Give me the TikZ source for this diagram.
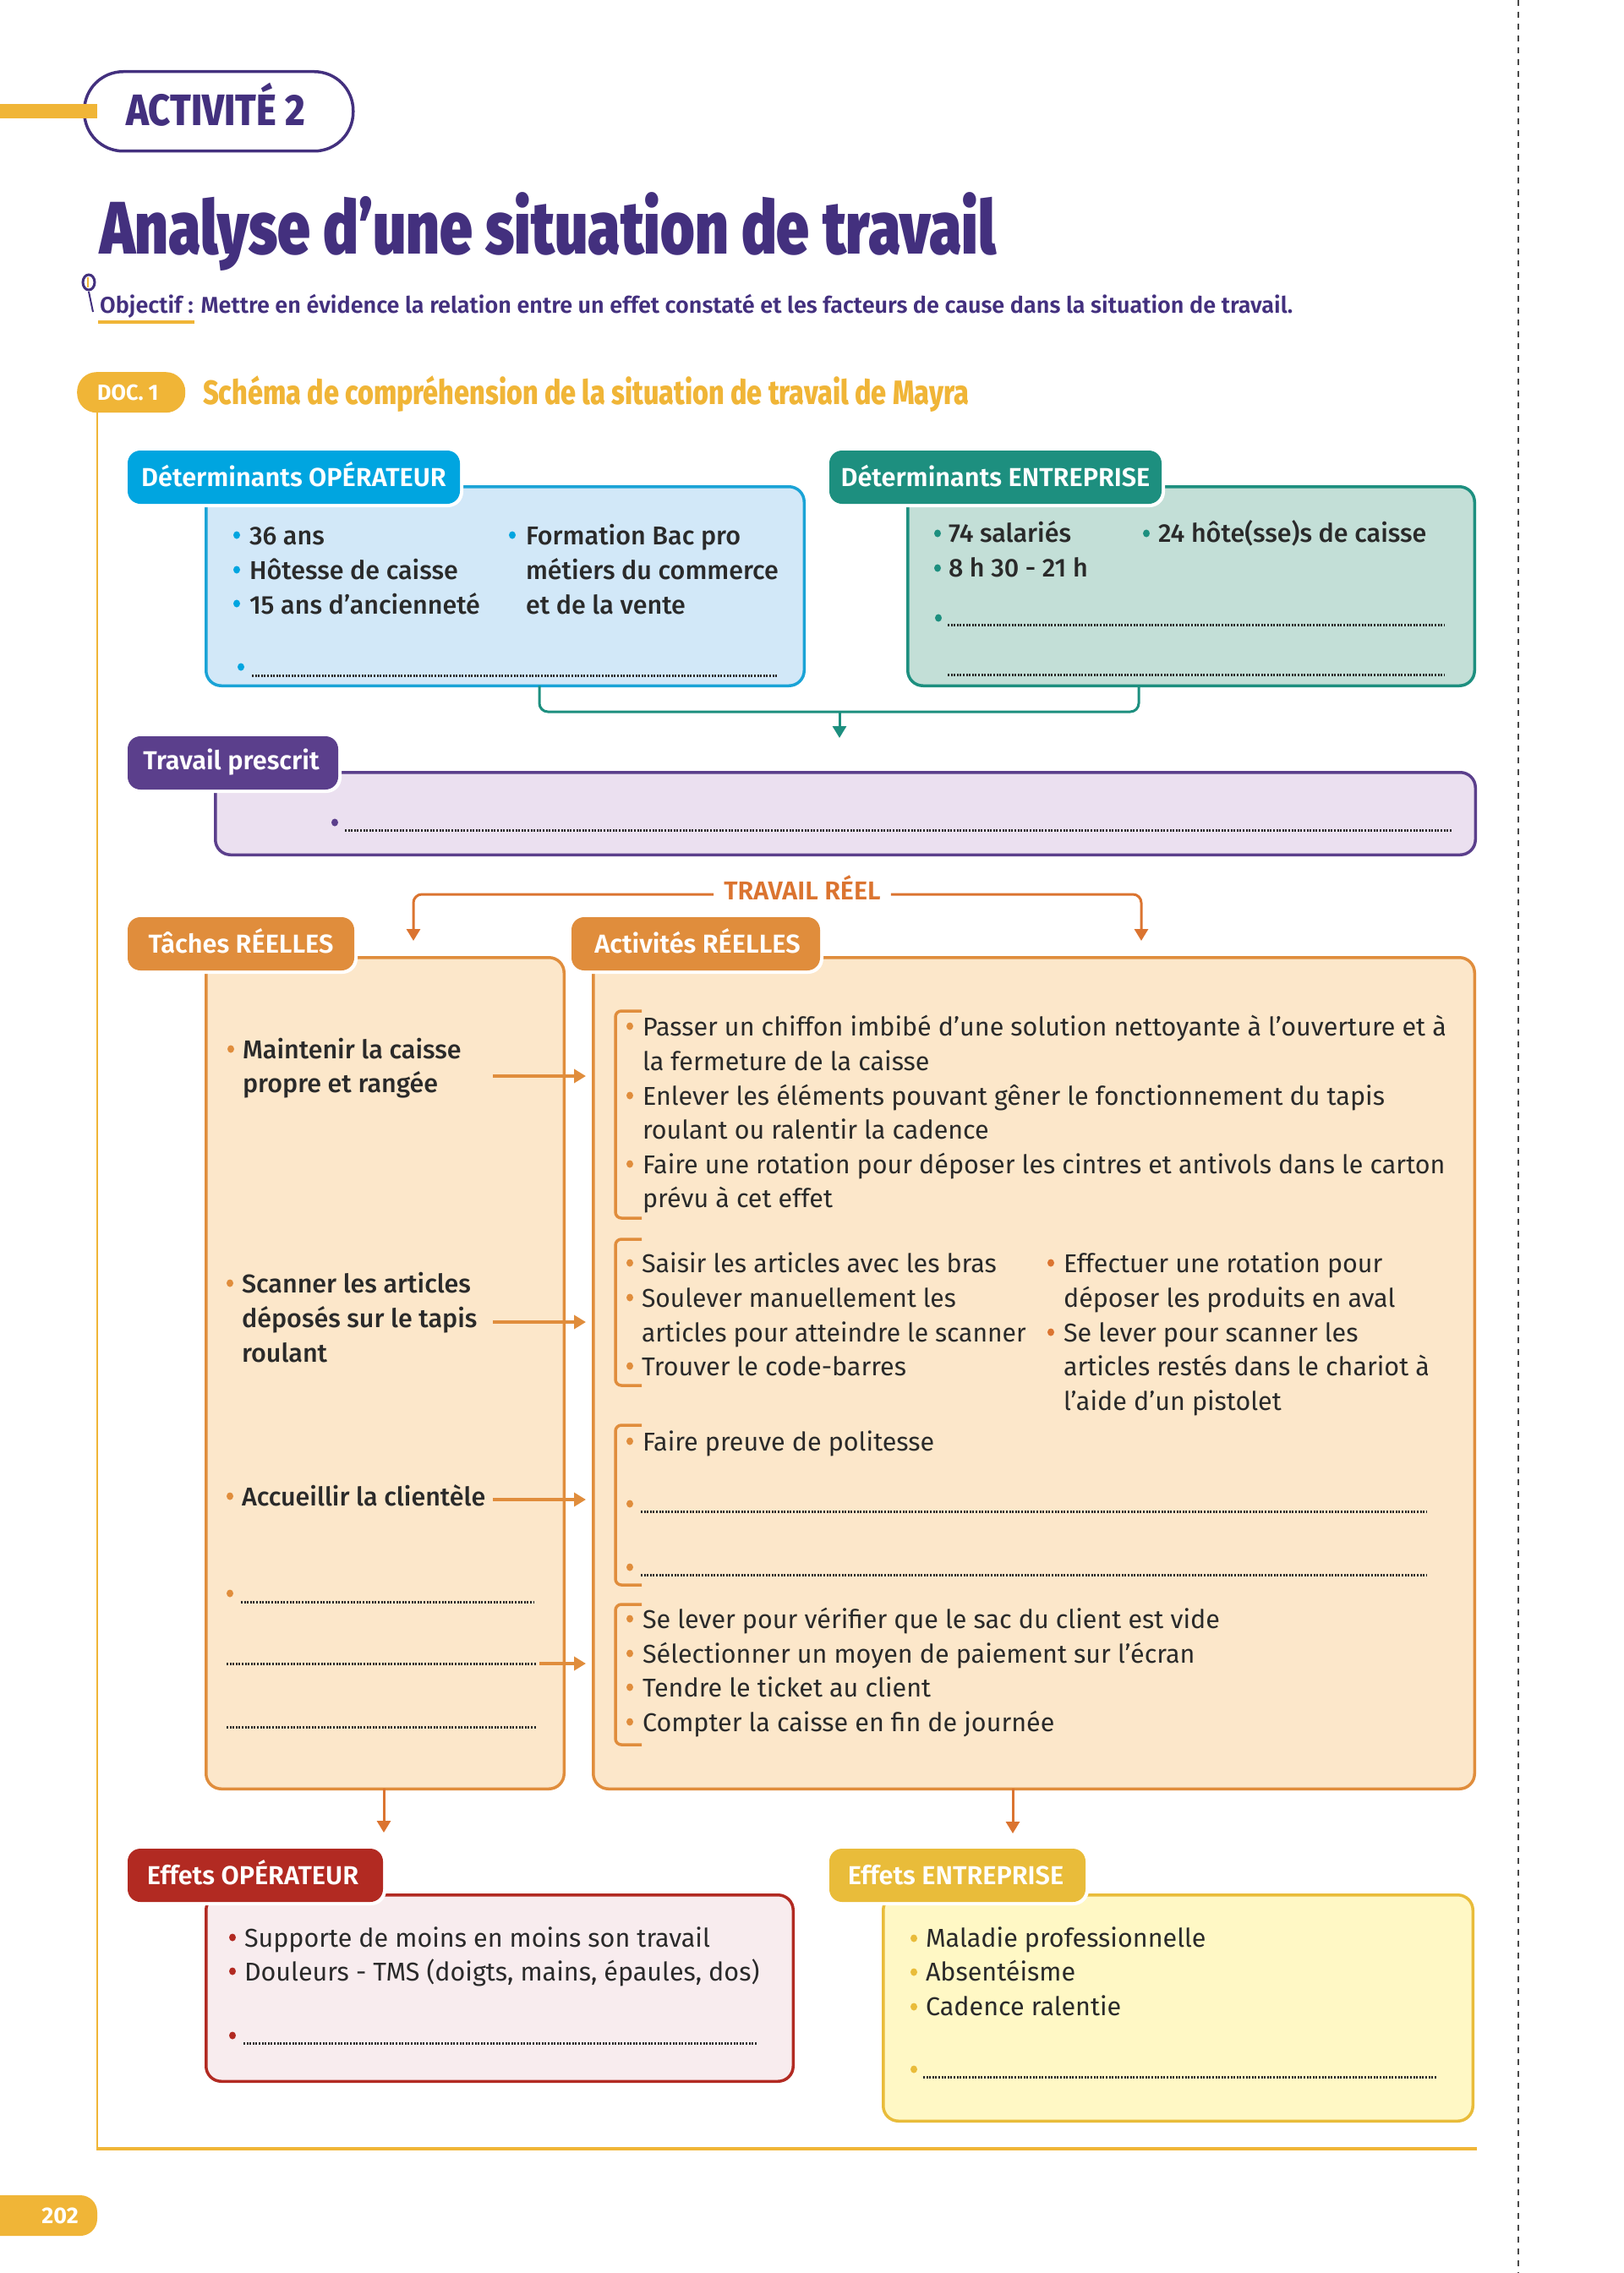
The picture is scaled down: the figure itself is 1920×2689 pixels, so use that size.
\documentclass[tikz,border=0pt]{standalone}
\usepackage{fontspec}
\usetikzlibrary{arrows.meta,shapes.geometric}
\setmainfont{Fira Sans}
\newfontfamily\fmed{Fira Sans Medium}
\newfontfamily\fsemi{Fira Sans SemiBold}
\newfontfamily\ftitle[FakeStretch=0.79]{Fira Sans Black}
\newfontfamily\facti[FakeStretch=0.87]{Fira Sans ExtraBold}
\newfontfamily\fhead[FakeStretch=0.81]{Fira Sans ExtraBold}
\newfontfamily\fdoc[FakeStretch=0.97]{Fira Sans Bold}
\newfontfamily\fpg{Fira Sans Bold}
\newfontfamily\ftight[FakeStretch=0.985]{Fira Sans}
\definecolor{ink}{HTML}{2A2A2A}
\definecolor{dpurple}{HTML}{43307E}
\definecolor{gold}{HTML}{F0B537}
\definecolor{blueL}{HTML}{00A5E0}
\definecolor{blueS}{HTML}{1AA3D6}
\definecolor{blueF}{HTML}{D2E8F8}
\definecolor{tealL}{HTML}{1D8F7F}
\definecolor{tealF}{HTML}{C3DFD7}
\definecolor{purpL}{HTML}{5B3F8C}
\definecolor{purpF}{HTML}{EBE0F0}
\definecolor{orL}{HTML}{E08D3C}
\definecolor{orD}{HTML}{DB7430}
\definecolor{orF}{HTML}{FCE7CA}
\definecolor{redL}{HTML}{B22A22}
\definecolor{redF}{HTML}{F8ECEE}
\definecolor{yelL}{HTML}{E9BC3A}
\definecolor{yelF}{HTML}{FFF8C5}
\tikzset{
  x=1pt,y=-1pt,
  panelbox/.style={draw=#1,line width=3.5pt,rounded corners=18pt,inner sep=0pt,outer sep=0pt},
  tagbox/.style={fill=#1,rounded corners=15pt,inner sep=0pt,outer sep=0pt,text=white,text height=21pt,text depth=0pt,font=\fontsize{30.7}{36}\fsemi},
  halo/.style={fill=white,rounded corners=18pt},
  body/.style={anchor=base west,inner sep=0pt,outer sep=0pt,text=ink,font=\fontsize{30.5}{40}\selectfont},
  bodym/.style={body,font=\fontsize{30.5}{40}\fmed},
  dots/.style={ink,line width=3pt,dash pattern=on 1.9pt off 1.7pt},
  brack/.style={orL,line width=3.5pt,rounded corners=7pt},
  thintip/.style={-{Triangle[length=14pt,width=16pt]}},
  flowA/.style={thintip,orL,line width=3.5pt},
  flowB/.style={thintip,orD,line width=3pt},
  flowC/.style={thintip,tealL,line width=3pt},
}
\newcommand\fpanel[7]{\pgfmathsetmacro\pw{#4-#2-1.5}\pgfmathsetmacro\ph{#5-#3-1.5}%
  \node[panelbox=#6,fill=#7,anchor=north west,minimum width=\pw pt,minimum height=\ph pt] (#1) at (#2+0.75,#3+0.75) {};}
\newcommand\tagl[7]{\pgfmathsetmacro\pw{#4-#2}\pgfmathsetmacro\ph{#5-#3}%
  \fill[halo] (#2-4,#3-4) rectangle (#4+4,#5+4);
  \node[tagbox=#6,anchor=north west,minimum width=\pw pt,minimum height=\ph pt] (#1) at (#2,#3) {#7};}
\newcommand\blt[3]{\fill[#1] (#2,#3) ellipse (4pt and 4.5pt);}
\newcommand\lin[4]{\node[body] (#1) at (#2,#3) {#4};}
\newcommand\linm[4]{\node[bodym] (#1) at (#2,#3) {#4};}
\newcommand\dotl[3]{\draw[dots] (#1,#3) -- (#2,#3);}
\begin{document}
\begin{tikzpicture}
\useasboundingbox (0,0) rectangle (1920,2689);
\fill[white] (0,0) rectangle (1920,2689);
% right margin
\draw[ink!85,line width=1.5pt,dash pattern=on 7pt off 7pt] (1796,0) -- (1796,2689);
% header
\node[draw=dpurple,line width=3.5pt,fill=white,rounded corners=46pt,inner sep=0pt,anchor=north west,minimum width=318pt,minimum height=94pt] (actpill) at (98,83) {};
\fill[gold] (0,123) rectangle (115,140);
\node[anchor=base west,inner sep=0pt,text=dpurple,font=\fontsize{52}{60}\facti] (acttxt) at (149,149) {ACTIVITÉ 2};
\node[anchor=base west,inner sep=0pt,text=dpurple,font=\fontsize{88}{100}\ftitle] (title) at (118,300) {Analyse d’une situation de travail};
\draw[dpurple,line width=2pt] (105,345) -- (110,369);
\draw[dpurple,line width=3pt] (105,334) ellipse (7pt and 9pt);
\fill[gold] (102.5,328) rectangle (105,340);
\node[anchor=base west,inner sep=0pt,text=dpurple,font=\fontsize{27}{30}\fsemi] (objt) at (118,370) {Objectif : Mettre en évidence la relation entre un effet constaté et les facteurs de cause dans la situation de travail.};
\draw[gold,line width=3.5pt] (116,381) -- (230,381);
% doc
\draw[gold,line width=2pt] (115,480) -- (115,2542);
\draw[gold,line width=3.5pt] (114,2542) -- (1747,2542);
\node[fill=gold,rounded corners=23pt,inner sep=0pt,anchor=north west,minimum width=128pt,minimum height=48pt] (docpill) at (91,440) {};
\node[anchor=base west,inner sep=0pt,text=white,font=\fontsize{26}{30}\fdoc] (doctxt) at (115,473) {DOC. 1};
\node[anchor=base west,inner sep=0pt,text=gold,font=\fontsize{40}{46}\fhead] (doch) at (240,478) {Schéma de compréhension de la situation de travail de Mayra};
% page number
\fill[gold,rounded corners=20pt] (-40,2597) rectangle (115,2645);
\node[anchor=base,inner sep=0pt,text=white,font=\fontsize{27}{30}\fpg] (pg) at (71,2630) {202};

% panels
\fpanel{opBox}{243}{575}{952}{812}{blueS}{blueF}
\fpanel{entBox}{1073}{575}{1745}{812}{tealL}{tealF}
\fpanel{prBox}{254}{913}{1746}{1012}{purpL}{purpF}
\fpanel{tacBox}{243}{1132}{668}{2117}{orL}{orF}
\fpanel{actBox}{701}{1132}{1745}{2117}{orL}{orF}
\fpanel{effOp}{243}{2241}{939}{2463}{redL}{redF}
\fpanel{effEn}{1044}{2241}{1743}{2510}{yelL}{yelF}
% tags
\tagl{tagOp}{151}{533}{544}{596}{blueL}{Déterminants OPÉRATEUR}
\tagl{tagEn}{981}{533}{1374}{596}{tealL}{Déterminants ENTREPRISE}
\tagl{tagPr}{151}{871}{400}{934}{purpL}{\raisebox{3pt}{Travail prescrit}\hspace*{4pt}}
\tagl{tagTa}{151}{1085}{419}{1148}{orL}{Tâches RÉELLES}
\tagl{tagAc}{676}{1085}{970}{1148}{orL}{\hspace*{4pt}Activités RÉELLES}
\tagl{tagEO}{151}{2187}{453}{2250}{redL}{Effets OPÉRATEUR\hspace*{6pt}}
\tagl{tagEE}{981}{2187}{1284}{2250}{yelL}{Effets ENTREPRISE\hspace*{4pt}}

% operator
\blt{blueL}{280}{633}\blt{blueL}{280}{674}\blt{blueL}{280}{714}
\linm{o1}{295}{644}{36 ans}\linm{o2}{295}{685}{Hôtesse de caisse}\linm{o3}{295}{726}{15 ans d’ancienneté}
\blt{blueL}{606}{633}
\linm{o4}{622}{644}{Formation Bac pro}\linm{o5}{622}{685}{métiers du commerce}\linm{o6}{622}{726}{et de la vente}
\blt{blueL}{285}{789}\dotl{298}{919}{799}
% entreprise
\blt{tealL}{1109}{631}\blt{tealL}{1109}{672}
\linm{e1}{1122}{641}{74 salariés}\linm{e2}{1122}{682}{8 h 30 - 21 h}
\blt{tealL}{1356}{631}\linm{e3}{1370}{641}{24 hôte(sse)s de caisse}
\blt{tealL}{1110}{731}\dotl{1121}{1709}{739}\dotl{1121}{1709}{798}
% prescrit
\blt{purpL}{396}{973}\dotl{408}{1718}{982}
% connector teal
\coordinate (tj1) at (638,842);\coordinate (tj2) at (1347,842);\coordinate (tmid) at (993,842);\coordinate (ttip) at (993,873);
\draw[tealL,line width=3pt,rounded corners=10pt] (opBox.south -| tj1) -- (tj1) -- (tj2) -- (entBox.south -| tj2);
\draw[flowC] (tmid) -- (ttip);
% travail reel
\node[anchor=base,inner sep=0pt,inner xsep=12pt,text=orD,text height=12pt,text depth=0pt,font=\fontsize{30.5}{34}\fsemi] (tr) at (949,1064) {TRAVAIL RÉEL};
\coordinate (tipL) at (489,1113);\coordinate (tipR) at (1350,1113);
\draw[flowB,rounded corners=10pt] (tr.west) -| (tipL);
\draw[flowB,rounded corners=10pt] (tr.east) -| (tipR);
% taches
\blt{orL}{273}{1241}\linm{t1}{287}{1252}{Maintenir la caisse}\linm{t2}{287}{1292}{propre et rangée}
\blt{orL}{272}{1518}\linm{t3}{286}{1529}{Scanner les articles}\linm{t4}{286}{1570}{déposés sur le tapis}\linm{t5}{286}{1611}{roulant}
\blt{orL}{272}{1770}\linm{t6}{286}{1781}{Accueillir la clientèle}
\blt{orL}{272}{1885}\dotl{285}{631}{1895}\dotl{268}{634}{1968}\dotl{268}{634}{2043}
% arrows t -> a
\coordinate (a1s) at (583,1273);\coordinate (a1e) at (693,1273);
\coordinate (a2s) at (583,1564);\coordinate (a2e) at (693,1564);
\coordinate (a3s) at (583,1774);\coordinate (a3e) at (693,1774);
\coordinate (a4s) at (638,1968);\coordinate (a4e) at (693,1968);
\draw[flowA] (a1s) -- (a1e);\draw[flowA] (a2s) -- (a2e);\draw[flowA] (a3s) -- (a3e);\draw[flowA] (a4s) -- (a4e);
% brackets
\draw[brack] (759,1196) -- (728,1196) -- (728,1441) -- (759,1441);
\draw[brack] (759,1466) -- (728,1466) -- (728,1639) -- (759,1639);
\draw[brack] (759,1686) -- (728,1686) -- (728,1875) -- (759,1875);
\draw[brack] (759,1898) -- (728,1898) -- (728,2064) -- (759,2064);
% activities
\blt{orL}{745}{1214}\lin{a1}{760}{1225}{Passer un chiffon imbibé d’une solution nettoyante à l’ouverture et à}\lin{a2}{760}{1266}{la fermeture de la caisse}
\blt{orL}{745}{1296}\lin{a3}{760}{1307}{Enlever les éléments pouvant gêner le fonctionnement du tapis}\lin{a4}{760}{1347}{roulant ou ralentir la cadence}
\blt{orL}{745}{1377}\lin{a5}{760}{1388}{Faire une rotation pour déposer les cintres et antivols dans le carton}\lin{a6}{760}{1428}{prévu à cet effet}
\blt{orL}{745}{1494}\lin{b1}{759}{1505}{Saisir les articles avec les bras}
\blt{orL}{745}{1535}\lin{b2}{759}{1546}{\ftight Soulever manuellement les}\lin{b3}{759}{1587}{\ftight articles pour atteindre le scanner}
\blt{orL}{745}{1616}\lin{b4}{759}{1627}{Trouver le code-barres}
\blt{orD}{1243}{1494}\lin{b5}{1258}{1505}{Effectuer une rotation pour}\lin{b6}{1258}{1546}{déposer les produits en aval}
\blt{orD}{1243}{1576}\lin{b7}{1258}{1587}{Se lever pour scanner les}\lin{b8}{1258}{1627}{articles restés dans le chariot à}\lin{b9}{1258}{1668}{l’aide d’un pistolet}
\blt{orL}{745}{1705}\lin{c1}{760}{1716}{Faire preuve de politesse}
\blt{orL}{745}{1779}\dotl{758}{1687}{1788}
\blt{orL}{745}{1854}\dotl{758}{1687}{1863}
\blt{orL}{745}{1915}\lin{d1}{760}{1926}{Se lever pour vérifier que le sac du client est vide}
\blt{orL}{745}{1956}\lin{d2}{760}{1967}{Sélectionner un moyen de paiement sur l’écran}
\blt{orL}{745}{1996}\lin{d3}{760}{2007}{Tendre le ticket au client}
\blt{orL}{745}{2037}\lin{d4}{760}{2048}{Compter la caisse en fin de journée}
% down arrows
\coordinate (dL) at (454,2168);\coordinate (dR) at (1198,2169);
\draw[flowB] (tacBox.south -| dL) -- (dL);
\draw[flowB] (actBox.south -| dR) -- (dR);
% effets operateur
\blt{redL}{275}{2292}\lin{f1}{289}{2303}{Supporte de moins en moins son travail}
\blt{redL}{275}{2332}\lin{f2}{289}{2343}{Douleurs - TMS (doigts, mains, épaules, dos)}
\blt{redL}{275}{2408}\dotl{288}{895}{2417}
% effets entreprise
\blt{yelL}{1081}{2293}\lin{g1}{1095}{2303}{Maladie professionnelle}
\blt{yelL}{1081}{2333}\lin{g2}{1095}{2343}{Absentéisme}
\blt{yelL}{1081}{2374}\lin{g3}{1095}{2384}{Cadence ralentie}
\blt{yelL}{1081}{2448}\dotl{1092}{1700}{2457}
\end{tikzpicture}
\end{document}
